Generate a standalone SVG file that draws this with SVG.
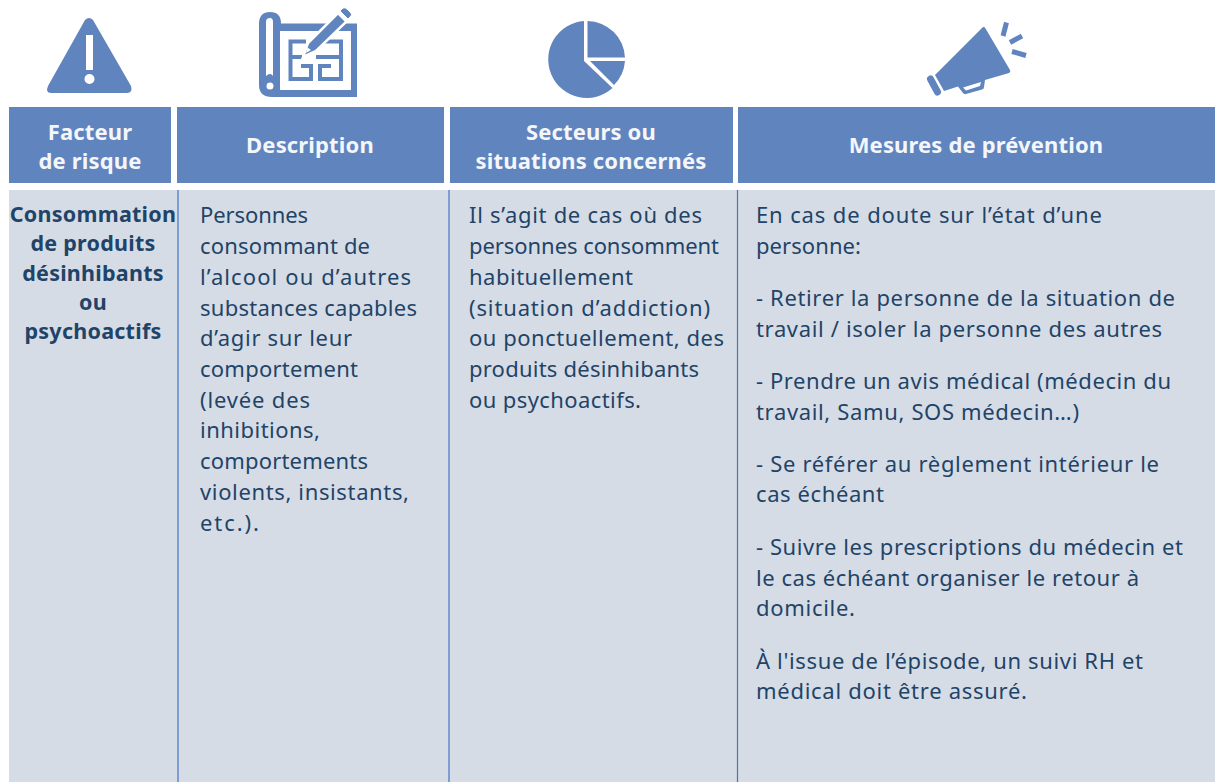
<svg xmlns="http://www.w3.org/2000/svg" width="1219" height="782" viewBox="0 0 1219 782">
<style>
.h{fill:#6084BE}
.t{font-family:"Noto Sans","Open Sans","DejaVu Sans",sans-serif}
.th{font-size:22px;font-weight:700;fill:#F4F6FA;text-anchor:middle;letter-spacing:.15px}
.b{font-size:22px;fill:#1F4468}
.k{font-size:21.500px;font-weight:700;fill:#1F4468;text-anchor:middle;letter-spacing:.25px}
.ln{stroke:#4472C4;stroke-width:1.200}
.w{fill:none;stroke:#6084BE;stroke-width:4}
</style>
<rect width="1219" height="782" fill="#fff"/>
<rect x="9" y="190" width="1206" height="592" fill="#D6DCE5"/>
<g id="connectors" class="ln">
<line x1="178" y1="190" x2="178" y2="782"/>
<line x1="449" y1="190" x2="449" y2="782"/>
<line x1="737.500" y1="190" x2="737.500" y2="782"/>
</g>
<g id="icon-warning" class="h">
<path fill-rule="evenodd" d="M85 20Q89 16 93 20L131 86Q133 93 127 93H51Q45 93 48 86ZM86 35V70H93V35ZM89.500 74A5 5 0 1 0 89.500 84A5 5 0 1 0 89.500 74Z"/>
</g>
<g id="icon-plan">
<path class="h" fill-rule="evenodd" d="M259 24Q259 12 270 12Q281 12 281 23.500H357V97H272Q259 97 259 85ZM266 22V76Q268 74 270 74Q272 74 273 76V22Q273 18 270 18Q266 18 266 22ZM270 82.500A3.500 3.500 0 1 0 270 89.500A3.500 3.500 0 1 0 270 82.500ZM280 31V90H351V31Z"/>
<path class="w" d="M306 41.500H290.500V79H311V66H301M320 41.500H341V79H320V66H331M290.500 57H302M316 57H341"/>
<path class="h" stroke="#fff" stroke-width="2.500" d="M308 43L338 13L346.500 21.500L316 51L303 57Z"/>
<path class="h" stroke="#fff" stroke-width="1" d="M340 11L343 8Q345 7 347 9L351 13Q352 15 351 16L348 19Z"/>
<path fill="#fff" d="M306 53L307.500 47.500L311 50Z"/>
</g>
<g id="icon-pie" class="h">
<path d="M587.500 21A38 38 0 0 1 625 57.500H587.500Z"/>
<path d="M590 61H625A38 38 0 0 1 614 85Z"/>
<path d="M584 21V61L612.500 88A38.500 38.500 0 1 1 584 21Z"/>
</g>
<g id="icon-megaphone">
<path class="h" d="M982 28Q984 26 985.500 28.500L1010 70Q1011 72 1009 73L985 80L984 87Q984 89 982 89.500L966 94Q964 94.500 963 93L958 86.500L944 91L935 75Z"/>
<path fill="#fff" d="M963 87.500L981 82L980 86L966 90.500Z"/>
<path fill="none" stroke="#6084BE" stroke-width="7" stroke-linecap="round" d="M930.500 79L937.500 92"/>
<path fill="none" stroke="#6084BE" stroke-width="5" d="M1006.500 22.500L1003 36M1022 36L1010 42.500M1012 51.500L1026 55.500"/>
</g>
<g id="col-1">
<rect class="h" x="9" y="107" width="162" height="76"/>
<text class="t th" x="90" y="140">Facteur</text>
<text class="t th" x="90" y="169">de risque</text>
<g class="t k">
<text x="93" y="222">Consommation</text>
<text x="93" y="251">de produits</text>
<text x="93" y="281">désinhibants</text>
<text x="93" y="310">ou</text>
<text x="93" y="339">psychoactifs</text>
</g>
</g>
<g id="col-2">
<rect class="h" x="177" y="107" width="267" height="76"/>
<text class="t th" x="310" y="153">Description</text>
<g class="t b">
<text x="200" y="223" textLength="108">Personnes</text>
<text x="200" y="254" textLength="170">consommant de</text>
<text x="200" y="285" textLength="211">l’alcool ou d’autres</text>
<text x="200" y="316" textLength="217">substances capables</text>
<text x="200" y="346" textLength="152">d’agir sur leur</text>
<text x="200" y="377" textLength="158">comportement</text>
<text x="200" y="408" textLength="110">(levée des</text>
<text x="200" y="438" textLength="120">inhibitions,</text>
<text x="200" y="469" textLength="168">comportements</text>
<text x="200" y="500" textLength="209">violents, insistants,</text>
<text x="200" y="531" textLength="59">etc.).</text>
</g>
</g>
<g id="col-3">
<rect class="h" x="450" y="107" width="283" height="76"/>
<text class="t th" x="591" y="140">Secteurs ou</text>
<text class="t th" x="591" y="169">situations concernés</text>
<g class="t b">
<text x="469" y="223" textLength="233">Il s’agit de cas où des</text>
<text x="469" y="254" textLength="250">personnes consomment</text>
<text x="469" y="285" textLength="164">habituellement</text>
<text x="469" y="316" textLength="241">(situation d’addiction)</text>
<text x="469" y="346" textLength="255">ou ponctuellement, des</text>
<text x="469" y="377" textLength="230">produits désinhibants</text>
<text x="469" y="408" textLength="172">ou psychoactifs.</text>
</g>
</g>
<g id="col-4">
<rect class="h" x="738" y="107" width="477" height="76"/>
<text class="t th" x="976" y="153">Mesures de prévention</text>
<g class="t b">
<text x="756" y="223" textLength="346">En cas de doute sur l’état d’une</text>
<text x="756" y="254" textLength="105">personne:</text>
<text x="756" y="306" textLength="419">- Retirer la personne de la situation de</text>
<text x="756" y="337" textLength="406">travail / isoler la personne des autres</text>
<text x="756" y="389" textLength="415">- Prendre un avis médical (médecin du</text>
<text x="756" y="420" textLength="323">travail, Samu, SOS médecin…)</text>
<text x="756" y="472" textLength="403">- Se référer au règlement intérieur le</text>
<text x="756" y="502" textLength="128">cas échéant</text>
<text x="756" y="555" textLength="427">- Suivre les prescriptions du médecin et</text>
<text x="756" y="586" textLength="383">le cas échéant organiser le retour à</text>
<text x="756" y="616" textLength="99">domicile.</text>
<text x="756" y="669" textLength="387">À l'issue de l’épisode, un suivi RH et</text>
<text x="756" y="699" textLength="271">médical doit être assuré.</text>
</g>
</g>
</svg>
